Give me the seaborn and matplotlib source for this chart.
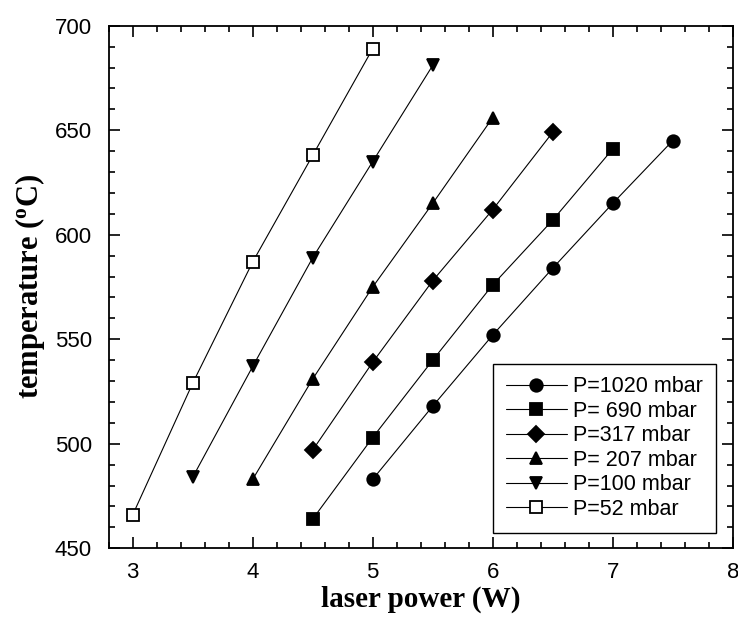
import matplotlib
matplotlib.use("Agg")
import matplotlib.pyplot as plt
import seaborn as sns
import pandas as pd

# ---- data ----
labels = ["P=1020 mbar", "P= 690 mbar", "P=317 mbar", "P= 207 mbar", "P=100 mbar", "P=52 mbar"]
x_1020 = [5.0, 5.5, 6.0, 6.5, 7.0, 7.5]
t_1020 = [483, 518, 552, 584, 615, 645]
x_690 = [4.5, 5.0, 5.5, 6.0, 6.5, 7.0]
t_690 = [464, 503, 540, 576, 607, 641]
x_317 = [4.5, 5.0, 5.5, 6.0, 6.5]
t_317 = [497, 539, 578, 612, 649]
x_207 = [4.0, 4.5, 5.0, 5.5, 6.0]
t_207 = [483, 531, 575, 615, 656]
x_100 = [3.5, 4.0, 4.5, 5.0, 5.5]
t_100 = [484, 537, 589, 635, 681]
x_52 = [3.0, 3.5, 4.0, 4.5, 5.0]
t_52 = [466, 529, 587, 638, 689]

xs = [x_1020, x_690, x_317, x_207, x_100, x_52]
ts = [t_1020, t_690, t_317, t_207, t_100, t_52]
markers = ["o", "s", "D", "^", "v", "s"]
msizes = [9, 8.5, 8, 9, 9, 8]
filled = [True, True, True, True, True, False]

sns.set_style("ticks")
plt.rcParams["font.family"] = ["Liberation Sans", "DejaVu Sans"]
plt.rcParams["mathtext.fontset"] = "custom"
plt.rcParams["mathtext.rm"] = "Liberation Serif:bold"
plt.rcParams["mathtext.bf"] = "Liberation Serif:bold"
plt.rcParams["mathtext.it"] = "Liberation Serif:bold"
plt.rcParams["text.color"] = "black"
plt.rcParams["axes.labelcolor"] = "black"

fig = plt.figure(figsize=(7.38, 6.22), dpi=100)
ax = fig.add_axes([108.7 / 738, 1 - 548.3 / 622, 624 / 738, 522.6 / 622])

for lab, x, t, m, ms, f in zip(labels, xs, ts, markers, msizes, filled):
    df = pd.DataFrame({"power": x, "temp": t})
    sns.lineplot(data=df, x="power", y="temp", ax=ax, color="black", lw=0.8,
                 marker=m, markersize=ms, markeredgecolor="black",
                 markeredgewidth=1.3, label=lab, legend=False)
    line = ax.lines[-1]
    line.set_markerfacecolor("black" if f else "white")

ax.set_xlim(2.8, 8.0)
ax.set_ylim(450, 700)
ax.set_xticks([3, 4, 5, 6, 7, 8])
ax.set_yticks([450, 500, 550, 600, 650, 700])
ax.set_xticks([x / 10 for x in range(28, 81, 2)], minor=True)
ax.set_yticks(list(range(450, 701, 10)), minor=True)

for s in ax.spines.values():
    s.set_linewidth(1.3)
    s.set_color("black")
    s.set_visible(True)

ax.tick_params(which="both", direction="in", top=True, right=True, color="black",
               labelcolor="black", width=1.2)
ax.tick_params(which="major", length=8, labelsize=16, pad=11)
ax.tick_params(which="minor", length=4.5)
ax.tick_params(axis="x", which="major", pad=10)
ax.tick_params(axis="y", which="major", pad=12)

ax.set_xlabel("laser power (W)", fontfamily="Liberation Serif", fontweight="bold",
              fontsize=21, labelpad=2, color="black")
ax.set_ylabel(r"temperature ($^{\mathrm{o}}$C)", fontfamily="Liberation Serif",
              fontweight="bold", fontsize=22, labelpad=6, color="black")

handles, labs = ax.get_legend_handles_labels()
leg = ax.legend(handles, labs, loc="lower right", bbox_to_anchor=(0.973, 0.030),
                borderaxespad=0, fontsize=15.5, frameon=True, fancybox=False,
                edgecolor="black", framealpha=1, handlelength=2.8,
                handletextpad=0.3, labelspacing=0.16, borderpad=0.6)
leg.get_frame().set_linewidth(1.0)
for txt in leg.get_texts():
    txt.set_color("black")

fig.savefig("out.png", dpi=100)
